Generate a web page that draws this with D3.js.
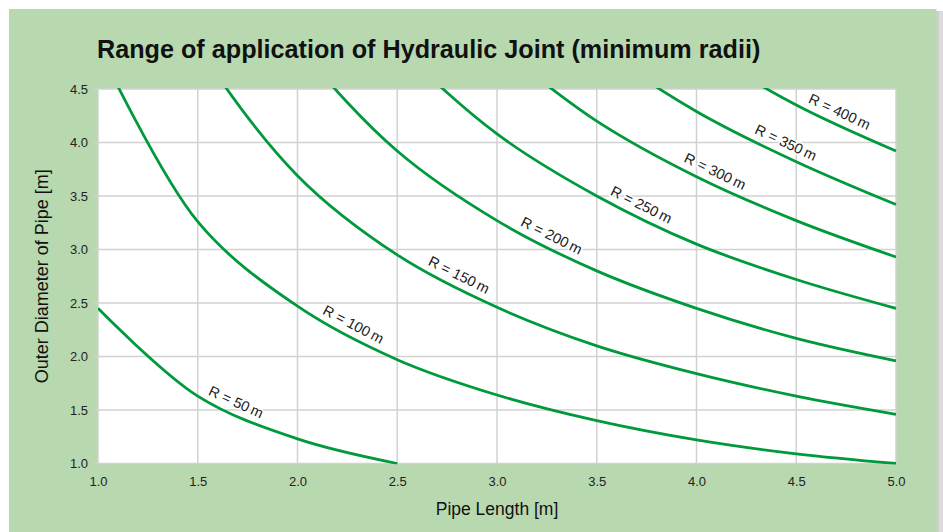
<!DOCTYPE html>
<html>
<head>
<meta charset="utf-8">
<script src="https://cdn.jsdelivr.net/npm/d3@7"></script>
<style>
  html, body { margin: 0; padding: 0; background: #ffffff; }
  svg { display: block; font-family: "Liberation Sans", Arial, sans-serif; }
</style>
</head>
<body>
<svg id="chart" width="943" height="532"></svg>
<script>
// ---- Data (values above 4.5 are off-chart estimates) ----
const title = "Range of application of Hydraulic Joint (minimum radii)";
const xTitle = "Pipe Length [m]";
const yTitle = "Outer Diameter of Pipe [m]";
const xTicks = [1.0, 1.5, 2.0, 2.5, 3.0, 3.5, 4.0, 4.5, 5.0];
const yTicks = [1.0, 1.5, 2.0, 2.5, 3.0, 3.5, 4.0, 4.5];
const lengths = [1.0, 1.5, 2.0, 2.5, 3.0, 3.5, 4.0, 4.5, 5.0];   // pipe length [m]
const radii = [50, 100, 150, 200, 250, 300, 350, 400];

// outer diameter [m] per pipe length, one array per minimum radius
const r50  = [2.45, 1.63, 1.23, 1.0];
const r100 = [4.9, 3.26, 2.47, 1.97, 1.64, 1.40, 1.22, 1.09, 1.0];
const r150 = [6.6, 4.9, 3.69, 2.95, 2.46, 2.10, 1.84, 1.63, 1.46];
const r200 = [7.6, 6.1, 4.9, 3.92, 3.27, 2.80, 2.45, 2.17, 1.96];
const r250 = [8.5, 7.0, 5.85, 4.9, 4.08, 3.50, 3.05, 2.72, 2.45];
const r300 = [9.3, 7.8, 6.6, 5.65, 4.9, 4.2, 3.68, 3.27, 2.93];
const r350 = [10.0, 8.5, 7.3, 6.4, 5.65, 4.9, 4.29, 3.82, 3.42];
const r400 = [10.6, 9.2, 8.0, 7.0, 6.2, 5.55, 4.9, 4.35, 3.92];
const series = [r50, r100, r150, r200, r250, r300, r350, r400];
// pipe length at which each curve label sits
const labelAt = [1.665, 2.25, 2.78, 3.245, 3.695, 4.065, 4.42, 4.69];

// ---- Drawing ----
const svg = d3.select("#chart");
const W = 943, H = 532;
const plot = { left: 98, top: 89, right: 896, bottom: 463.5 };

// page shadow + green panel
svg.append("rect").attr("x", 936).attr("y", 11).attr("width", 7).attr("height", H - 11).attr("fill", "#dcdcdc");
svg.append("rect").attr("x", 936).attr("y", 11).attr("width", 3).attr("height", H - 11).attr("fill", "#cfcfcf");
svg.append("rect").attr("x", 9).attr("y", 9).attr("width", 927.5).attr("height", H - 9).attr("fill", "#b8d9b0");

const x = d3.scaleLinear().domain([1, 5]).range([plot.left, plot.right]);
const y = d3.scaleLinear().domain([1, 4.5]).range([plot.bottom, plot.top]);

// plot area
svg.append("rect").attr("x", plot.left).attr("y", plot.top)
  .attr("width", plot.right - plot.left).attr("height", plot.bottom - plot.top).attr("fill", "#ffffff");

// grid
const grid = svg.append("g").attr("stroke", "#d2d2d2").attr("stroke-width", 1.5);
grid.selectAll("line.v").data(xTicks).join("line").attr("class", "v")
  .attr("x1", d => x(d)).attr("x2", d => x(d)).attr("y1", plot.top).attr("y2", plot.bottom);
grid.selectAll("line.h").data(yTicks).join("line").attr("class", "h")
  .attr("x1", plot.left - 4).attr("x2", plot.right).attr("y1", d => y(d)).attr("y2", d => y(d));

// axes (labels only, using d3 axes)
const xAxis = svg.append("g").attr("transform", `translate(0,${plot.bottom})`)
  .call(d3.axisBottom(x).tickValues(xTicks).tickFormat(d3.format(".1f")).tickSize(0).tickPadding(13));
const yAxis = svg.append("g").attr("transform", `translate(${plot.left},0)`)
  .call(d3.axisLeft(y).tickValues(yTicks).tickFormat(d3.format(".1f")).tickSize(0).tickPadding(10));
[xAxis, yAxis].forEach(a => {
  a.select(".domain").remove();
  a.selectAll("text").attr("font-size", 13).attr("fill", "#222")
    .attr("font-family", "'Liberation Sans', Arial, sans-serif");
});

// clip
svg.append("clipPath").attr("id", "clip").append("rect")
  .attr("x", plot.left).attr("y", plot.top - 1)
  .attr("width", plot.right - plot.left + 1).attr("height", plot.bottom - plot.top + 2);

const line = d3.line().x(d => x(d[0])).y(d => y(d[1])).curve(d3.curveCatmullRom.alpha(0.5));
const curves = series.map(vals => vals.map((v, j) => [lengths[j], v]));
const gCurves = svg.append("g").attr("clip-path", "url(#clip)");
const paths = gCurves.selectAll("path").data(curves).join("path")
  .attr("d", line).attr("fill", "none").attr("stroke", "#009a3d")
  .attr("stroke-width", 2.8).attr("stroke-linejoin", "round");

// labels along curves
const gLabels = svg.append("g");
paths.each(function(c, i) {
  const p = this;
  const total = p.getTotalLength();
  const tx = x(labelAt[i]);
  let lo = 0, hi = total;
  for (let k = 0; k < 40; k++) {
    const mid = (lo + hi) / 2;
    if (p.getPointAtLength(mid).x < tx) lo = mid; else hi = mid;
  }
  const s = (lo + hi) / 2;
  const pt = p.getPointAtLength(s);
  const a = p.getPointAtLength(Math.max(0, s - 4));
  const b = p.getPointAtLength(Math.min(total, s + 4));
  const ang = Math.atan2(b.y - a.y, b.x - a.x);
  const off = 13;
  const cx = pt.x + off * Math.sin(ang);
  const cy = pt.y - off * Math.cos(ang);
  gLabels.append("text")
    .attr("transform", `translate(${cx},${cy}) rotate(${ang * 180 / Math.PI})`)
    .attr("text-anchor", "middle").attr("dominant-baseline", "central")
    .attr("font-size", 14.5).attr("fill", "#1a1a1a")
    .attr("stroke", "#ffffff").attr("stroke-width", 3).attr("paint-order", "stroke")
    .text(`R = ${radii[i]}\u2009m`);
});

// titles
svg.append("text").attr("x", 97).attr("y", 58)
  .attr("font-size", 25.2).attr("font-weight", "bold").attr("fill", "#111")
  .text(title);
svg.append("text").attr("x", (plot.left + plot.right) / 2).attr("y", 515)
  .attr("text-anchor", "middle").attr("font-size", 17.5).attr("fill", "#111")
  .text(xTitle);
svg.append("text").attr("transform", `translate(48,${(plot.top + plot.bottom) / 2}) rotate(-90)`)
  .attr("text-anchor", "middle").attr("font-size", 18).attr("fill", "#111")
  .text(yTitle);
</script>
</body>
</html>
